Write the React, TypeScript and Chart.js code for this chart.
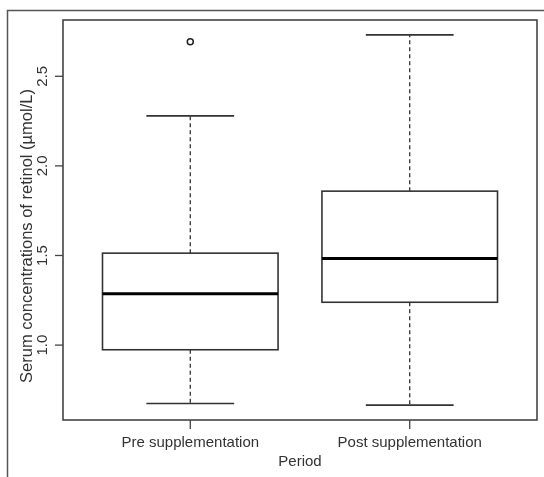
import React, { useEffect, useRef } from "react";
import { Chart, registerables } from "chart.js";

Chart.register(...registerables);

const categories = ["Pre supplementation", "Post supplementation"];
const whiskerLow = [0.674, 0.665];
const q1 = [0.974, 1.239];
const median = [1.287, 1.483];
const q3 = [1.513, 1.859];
const whiskerHigh = [2.279, 2.731];
const outliers = [[2.692], []];
const yTicks = [1.0, 1.5, 2.0, 2.5];
const yTickLabels = ["1.0", "1.5", "2.0", "2.5"];
const xTitle = "Period";
const yTitle = "Serum concentrations of retinol (\u00b5mol/L)";

const FONT = "15px 'Liberation Sans', Arial, sans-serif";
const TITLE_FONT = "16.5px 'Liberation Sans', Arial, sans-serif";
const INK = "#333333";

const boxPlugin = {
  id: "rbox",
  beforeDatasetsDraw(chart: any) {
    const { ctx, chartArea: a, scales } = chart;
    const xs = scales.x;
    const ys = scales.y;
    ctx.save();
    // outer figure frame
    ctx.strokeStyle = "#555";
    ctx.lineWidth = 1.5;
    ctx.beginPath();
    ctx.moveTo(7.5, 477);
    ctx.lineTo(7.5, 10.5);
    ctx.lineTo(544, 10.5);
    ctx.stroke();

    // boxes
    categories.forEach((_, i) => {
      const cx = xs.getPixelForValue(i + 1);
      const hw = xs.getPixelForValue(i + 1.4) - cx;
      const cw = xs.getPixelForValue(i + 1.2) - cx;
      const yLo = ys.getPixelForValue(whiskerLow[i]);
      const yQ1 = ys.getPixelForValue(q1[i]);
      const yMed = ys.getPixelForValue(median[i]);
      const yQ3 = ys.getPixelForValue(q3[i]);
      const yHi = ys.getPixelForValue(whiskerHigh[i]);

      // whiskers dashed
      ctx.strokeStyle = INK;
      ctx.lineWidth = 1.3;
      ctx.setLineDash([4, 3]);
      ctx.beginPath();
      ctx.moveTo(cx, yQ3);
      ctx.lineTo(cx, yHi);
      ctx.moveTo(cx, yQ1);
      ctx.lineTo(cx, yLo);
      ctx.stroke();
      ctx.setLineDash([]);

      // caps
      ctx.lineWidth = 1.6;
      ctx.beginPath();
      ctx.moveTo(cx - cw, yHi);
      ctx.lineTo(cx + cw, yHi);
      ctx.moveTo(cx - cw, yLo);
      ctx.lineTo(cx + cw, yLo);
      ctx.stroke();

      // box
      ctx.fillStyle = "#fff";
      ctx.fillRect(cx - hw, yQ3, 2 * hw, yQ1 - yQ3);
      ctx.strokeRect(cx - hw, yQ3, 2 * hw, yQ1 - yQ3);

      // median
      ctx.strokeStyle = "#000";
      ctx.lineWidth = 3;
      ctx.beginPath();
      ctx.moveTo(cx - hw, yMed);
      ctx.lineTo(cx + hw, yMed);
      ctx.stroke();
    });

    // plot frame
    ctx.strokeStyle = "#444";
    ctx.lineWidth = 1.6;
    ctx.strokeRect(a.left, a.top, a.right - a.left, a.bottom - a.top);

    // y ticks + labels
    ctx.fillStyle = INK;
    ctx.font = FONT;
    ctx.lineWidth = 1.3;
    ctx.strokeStyle = "#444";
    yTicks.forEach((v, k) => {
      const y = ys.getPixelForValue(v);
      ctx.beginPath();
      ctx.moveTo(a.left - 8, y);
      ctx.lineTo(a.left, y);
      ctx.stroke();
      ctx.save();
      ctx.translate(47, y);
      ctx.rotate(-Math.PI / 2);
      ctx.textAlign = "center";
      ctx.textBaseline = "alphabetic";
      ctx.fillText(yTickLabels[k], 0, 0);
      ctx.restore();
    });

    // x ticks + labels
    categories.forEach((c, i) => {
      const x = xs.getPixelForValue(i + 1);
      ctx.beginPath();
      ctx.moveTo(x, a.bottom);
      ctx.lineTo(x, a.bottom + 9);
      ctx.stroke();
      ctx.textAlign = "center";
      ctx.textBaseline = "alphabetic";
      ctx.fillText(c, x, 447);
    });

    // titles
    ctx.textAlign = "center";
    ctx.fillText(xTitle, (a.left + a.right) / 2, 466);
    ctx.save();
    ctx.font = TITLE_FONT;
    ctx.translate(32, 236);
    ctx.rotate(-Math.PI / 2);
    ctx.fillText(yTitle, 0, 0);
    ctx.restore();

    ctx.restore();
  },
};

export default function App() {
  const ref = useRef<HTMLCanvasElement | null>(null);
  useEffect(() => {
    if (!ref.current) return;
    const pts: { x: number; y: number }[] = [];
    outliers.forEach((arr, i) => arr.forEach((v) => pts.push({ x: i + 1, y: v })));
    const chart = new Chart(ref.current, {
      type: "scatter",
      data: {
        datasets: [
          {
            data: pts,
            pointRadius: 3,
            pointBorderWidth: 1.5,
            pointBorderColor: "#222",
            pointBackgroundColor: "#fff",
          },
        ],
      },
      options: {
        animation: false,
        responsive: false,
        devicePixelRatio: 1,
        layout: { padding: { left: 63, top: 20, right: 7, bottom: 57 } },
        plugins: { legend: { display: false }, tooltip: { enabled: false } },
        scales: {
          x: { type: "linear", min: 0.42, max: 2.58, display: false },
          y: { type: "linear", min: 0.582, max: 2.814, display: false },
        },
      },
      plugins: [boxPlugin],
    });
    return () => chart.destroy();
  }, []);
  return (
    <div style={{ position: "fixed", left: 0, top: 0, width: 544, height: 477, background: "#fff" }}>
      <canvas ref={ref} width={544} height={477} />
    </div>
  );
}
